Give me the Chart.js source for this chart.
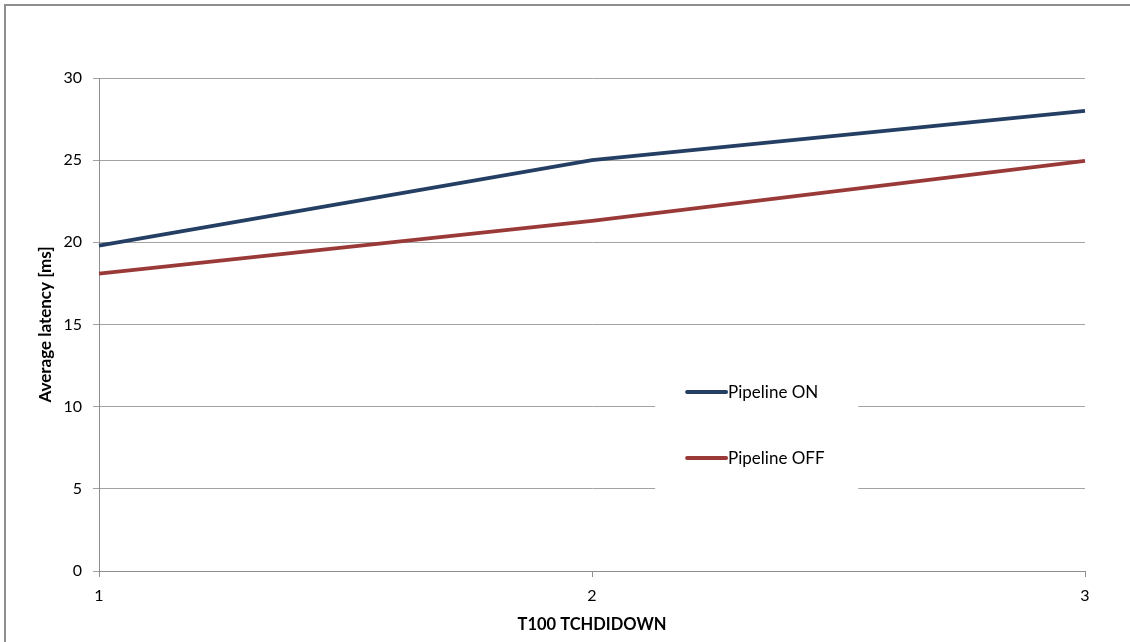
<!DOCTYPE html>
<html>
<head>
<meta charset="utf-8">
<script src="https://cdn.jsdelivr.net/npm/chart.js@4"></script>
<style>
  html, body { margin: 0; padding: 0; background: #fff; }
  .frame { position: absolute; left: 4px; top: 4px; width: 1126px; height: 638px;
           border-left: 2px solid #8e8e8e; border-top: 2px solid #8e8e8e; }
  .wrap { position: absolute; left: 0; top: 0; width: 1130px; height: 642px; }
</style>
</head>
<body>
<div class="frame"></div>
<div class="wrap"><canvas id="latency-chart" width="1130" height="642"></canvas></div>
<script>
  const categories = ["1", "2", "3"];
  const pipelineOn = [19.8, 25.0, 28.0];
  const pipelineOff = [18.1, 21.3, 24.95];
  const yTicks = [0, 5, 10, 15, 20, 25, 30];

  const FONT = "Lato, 'Liberation Sans', sans-serif";

  // Excel-style legend box sitting inside the plot area
  const insideLegend = {
    id: "insideLegend",
    afterDatasetsDraw(chart) {
      const { ctx, chartArea: a } = chart;
      const w = a.right - a.left, h = a.bottom - a.top;
      const bx = a.left + w * 0.564, bw = w * 0.206;
      const by = a.top + h * 0.56, bh = h * 0.31;
      ctx.save();
      ctx.fillStyle = "#ffffff";
      ctx.fillRect(bx, by, bw, bh);
      const rows = [a.top + h * 0.637, a.top + h * 0.771];
      chart.data.datasets.forEach((ds, i) => {
        const y = rows[i];
        ctx.strokeStyle = ds.borderColor;
        ctx.lineWidth = 4;
        ctx.lineCap = "round";
        ctx.beginPath();
        ctx.moveTo(bx + 32, y);
        ctx.lineTo(bx + 71, y);
        ctx.stroke();
        ctx.fillStyle = "#000";
        ctx.font = "17px " + FONT;
        ctx.textBaseline = "middle";
        ctx.fillText(ds.label, bx + 73, y);
      });
      ctx.restore();
    }
  };

  new Chart(document.getElementById("latency-chart"), {
    type: "line",
    data: {
      labels: categories,
      datasets: [
        { label: "Pipeline ON", data: pipelineOn, borderColor: "#243f63", backgroundColor: "#243f63",
          borderWidth: 3.8, pointRadius: 0, tension: 0 },
        { label: "Pipeline OFF", data: pipelineOff, borderColor: "#9a3a38", backgroundColor: "#9a3a38",
          borderWidth: 3.8, pointRadius: 0, tension: 0 }
      ]
    },
    options: {
      responsive: false,
      animation: false,
      layout: { padding: { top: 78, right: 45, left: 0, bottom: 0 } },
      plugins: { legend: { display: false }, tooltip: { enabled: false } },
      scales: {
        x: {
          type: "category",
          offset: false,
          grid: { drawOnChartArea: false, color: "#8e8e8e", tickLength: 6 },
          border: { color: "#8e8e8e", width: 1 },
          ticks: { color: "#000", padding: 9, maxRotation: 0, font: { family: FONT, size: 16 } },
          title: { display: true, text: "T100 TCHDIDOWN", color: "#000",
                   padding: { top: 0, bottom: 7 }, font: { family: FONT, size: 16.5, weight: "bold" } },
          afterFit(s) { s.height = 71; }
        },
        y: {
          min: 0, max: 30,
          afterBuildTicks(s) { s.ticks = yTicks.map(v => ({ value: v })); },
          grid: { color: "#a3a3a3", tickLength: 6 },
          border: { color: "#8e8e8e", width: 1 },
          ticks: { color: "#000", padding: 11, font: { family: FONT, size: 16 } },
          title: { display: true, text: "Average latency [ms]", color: "#000",
                   padding: { top: 35, bottom: 0 }, font: { family: FONT, size: 17, weight: "bold" } },
          afterFit(s) { s.width = 99; }
        }
      }
    },
    plugins: [insideLegend]
  });
</script>
</body>
</html>
